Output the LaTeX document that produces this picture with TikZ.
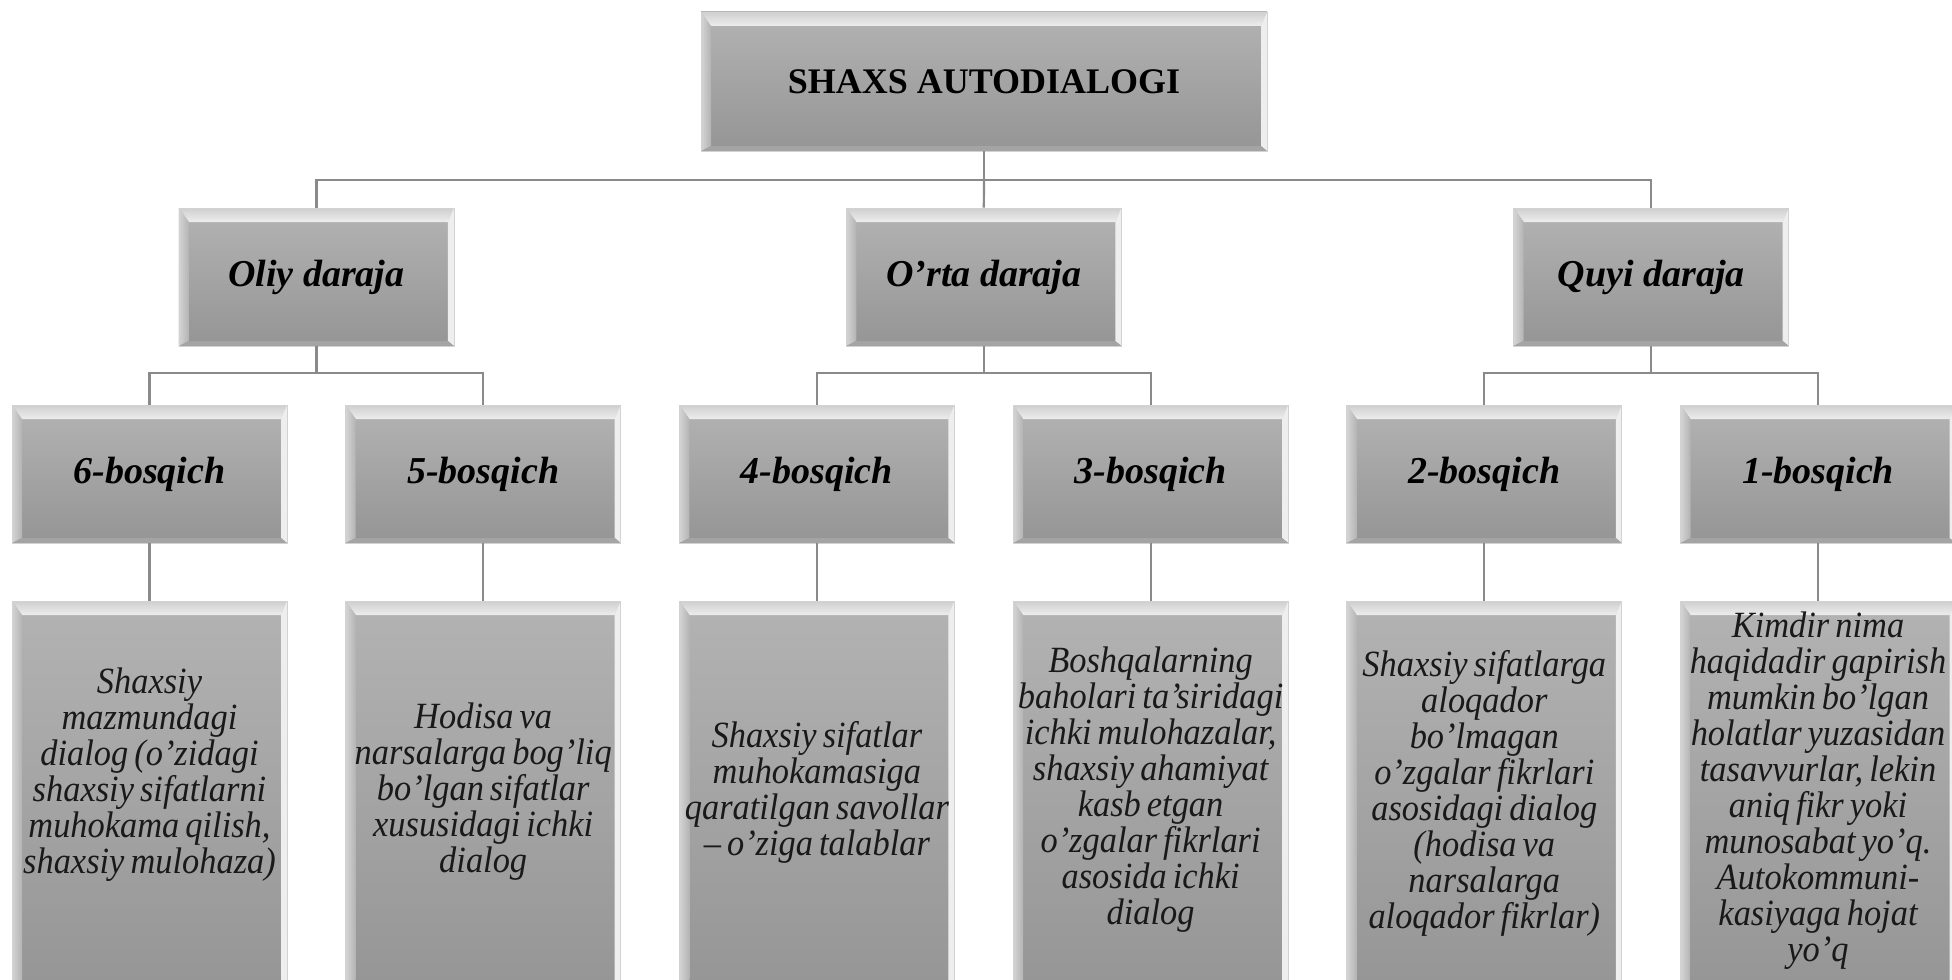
\documentclass[tikz,border=0pt]{standalone}
\usepackage{fontspec}
\setmainfont{Liberation Serif}
\newfontfamily\bodyfont[WordSpace=0.7,FakeStretch=0.93]{Liberation Serif}
\usetikzlibrary{calc}

\definecolor{boxtop}{HTML}{B3B3B3}
\definecolor{boxbot}{HTML}{959595}
\definecolor{bevhi}{HTML}{EDEDED}
\definecolor{bevlo}{HTML}{CFCFCF}
\definecolor{bevleft}{HTML}{C2C2C2}
\definecolor{bevright}{HTML}{EEEEEE}
\definecolor{bevbot}{HTML}{A4A4A4}
\definecolor{edge}{HTML}{D2D2D2}
\definecolor{wire}{HTML}{8A8A8A}

\tikzset{
  x=0.5pt, y=-0.5pt,
  bevelbox/.style={rectangle, draw=edge, line width=0.4pt, inner sep=0pt,
    top color=boxtop, bottom color=boxbot,
    path picture={
      \path (path picture bounding box.north west) coordinate (pNW)
            (path picture bounding box.north east) coordinate (pNE)
            (path picture bounding box.south west) coordinate (pSW)
            (path picture bounding box.south east) coordinate (pSE);
      \shade[top color=bevlo, bottom color=bevhi]
        (pNW) -- (pNE) -- ($(pNE)+(-3pt,-7pt)$) -- ($(pNW)+(5pt,-7pt)$) -- cycle;
      \shade[left color=bevleft!70!white, right color=boxtop]
        (pNW) -- ($(pNW)+(5pt,-7pt)$) -- ($(pSW)+(5pt,2.5pt)$) -- (pSW) -- cycle;
      \fill[bevright]
        (pNE) -- ($(pNE)+(-3pt,-7pt)$) -- ($(pSE)+(-3pt,2.5pt)$) -- (pSE) -- cycle;
      \fill[bevbot]
        (pSW) -- ($(pSW)+(5pt,2.5pt)$) -- ($(pSE)+(-3pt,2.5pt)$) -- (pSE) -- cycle;
    }},
  titlebox/.style={bevelbox, minimum width=283pt, minimum height=69.5pt,
    font=\bfseries\fontsize{18}{20}\selectfont},
  levelbox/.style={bevelbox, minimum width=137.5pt, minimum height=69pt,
    font=\bfseries\itshape\fontsize{19}{21}\selectfont},
  bodybox/.style={bevelbox, minimum width=137.5pt, minimum height=197pt},
  bodytext/.style={align=center, inner sep=0pt, text=black!90,
    font=\bodyfont\itshape\fontsize{18.5}{18}\selectfont},
  wire/.style={draw=wire, line width=1.1pt},
}

\begin{document}
\begin{tikzpicture}
\clip (0,0) rectangle (1952,979);
\fill[white] (0,0) rectangle (1952,979);

% root
\node[titlebox] (root) at (984,81.5) {SHAXS AUTODIALOGI};

% levels
\node[levelbox] (oliy) at (316.4,277) {Oliy daraja};
\node[levelbox] (orta) at (983.8,277) {O’rta daraja};
\node[levelbox] (quyi) at (1651.2,277) {Quyi daraja};

% stages
\node[levelbox] (s6) at (149.5,474) {6-bosqich};
\node[levelbox] (s5) at (483.2,474) {5-bosqich};
\node[levelbox] (s4) at (816.9,474) {4-bosqich};
\node[levelbox] (s3) at (1150.6,474) {3-bosqich};
\node[levelbox] (s2) at (1484.3,474) {2-bosqich};
\node[levelbox] (s1) at (1818,474) {1-bosqich};

% description panels (run past the lower edge)
\foreach \n/\x in {6/149.5,5/483.2,4/816.9,3/1150.6,2/1484.3,1/1818}
  \node[bodybox] (d\n) at (\x,798) {};

\node[bodytext] (t6) at (149.5,775) {Shaxsiy\\mazmundagi\\dialog (o’zidagi\\shaxsiy sifatlarni\\muhokama qilish,\\shaxsiy mulohaza)};
\node[bodytext] (t5) at (483.2,792) {Hodisa va\\narsalarga bog’liq\\bo’lgan sifatlar\\xususidagi ichki\\dialog};
\node[bodytext] (t4) at (816.9,792) {Shaxsiy sifatlar\\muhokamasiga\\qaratilgan savollar\\– o’ziga talablar};
\node[bodytext] (t3) at (1150.6,790) {Boshqalarning\\baholari ta’siridagi\\ichki mulohazalar,\\shaxsiy ahamiyat\\kasb etgan\\o’zgalar fikrlari\\asosida ichki\\dialog};
\node[bodytext] (t2) at (1484.3,793) {Shaxsiy sifatlarga\\aloqador\\bo’lmagan\\o’zgalar fikrlari\\asosidagi dialog\\(hodisa va\\narsalarga\\aloqador fikrlar)};
\node[bodytext] (t1) at (1818,791) {Kimdir nima\\haqidadir gapirish\\mumkin bo’lgan\\holatlar yuzasidan\\tasavvurlar, lekin\\aniq fikr yoki\\munosabat yo’q.\\Autokommuni-\\kasiyaga hojat\\yo’q};

% junction points of the tree
\coordinate (j0) at (984,180);
\coordinate (j1) at (316.4,373);
\coordinate (j2) at (983.8,373);
\coordinate (j3) at (1651.2,373);

\draw[wire] (root.south) -- (j0);
\draw[wire] (j0) -| (oliy.north);
\draw[wire] (j0) -| (quyi.north);
\draw[wire] (j0) -- (orta.north);

\draw[wire] (oliy.south) -- (j1);
\draw[wire] (j1) -| (s6.north);
\draw[wire] (j1) -| (s5.north);
\draw[wire] (orta.south) -- (j2);
\draw[wire] (j2) -| (s4.north);
\draw[wire] (j2) -| (s3.north);
\draw[wire] (quyi.south) -- (j3);
\draw[wire] (j3) -| (s2.north);
\draw[wire] (j3) -| (s1.north);

\foreach \n in {1,...,6}
  \draw[wire] (s\n.south) -- (d\n.north);
\end{tikzpicture}
\end{document}
